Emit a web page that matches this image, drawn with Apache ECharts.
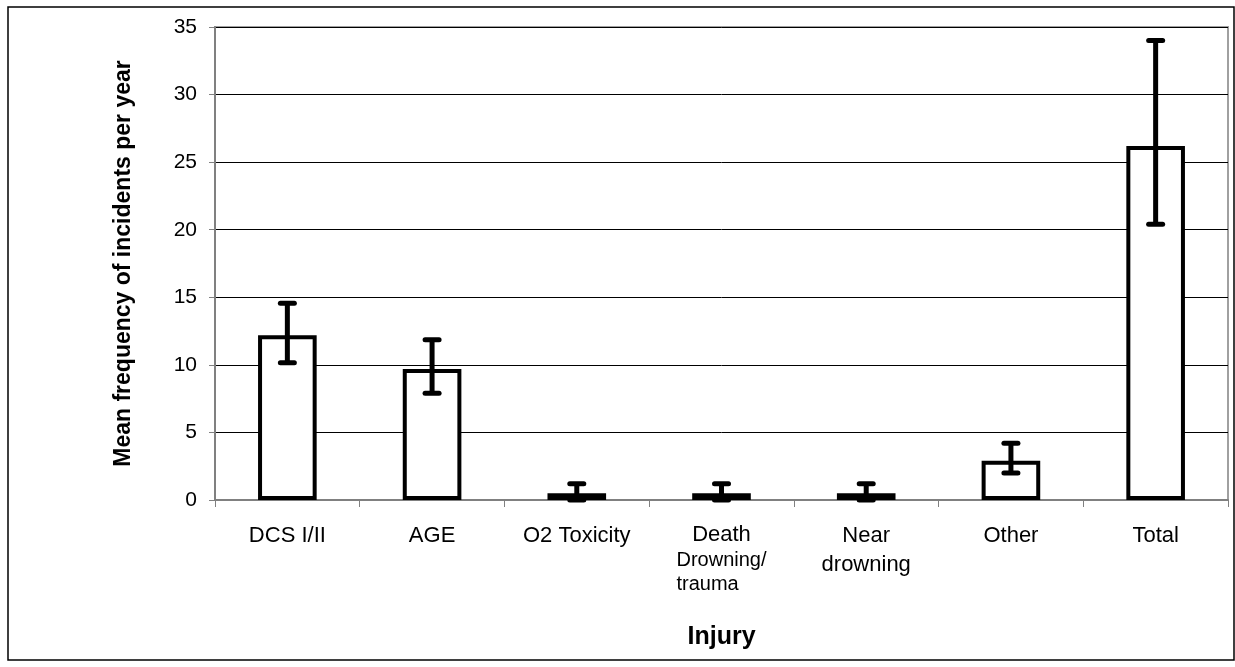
<!DOCTYPE html>
<html>
<head>
<meta charset="utf-8">
<script src="https://cdn.jsdelivr.net/npm/echarts@6/dist/echarts.min.js"></script>
<style>
html,body{margin:0;padding:0;background:#fff;}
#chart{width:1235px;height:667px;}
</style>
</head>
<body>
<div id="chart"></div>
<script>
const categories = ['DCS I/II', 'AGE', 'O2 Toxicity', 'Death', 'Near\ndrowning', 'Other', 'Total'];
const means = [12.2, 9.7, 0.5, 0.5, 0.5, 2.9, 26.2];
const errLow = [10.15, 7.9, 0, 0, 0, 2.0, 20.4];
const errHigh = [14.55, 11.85, 1.2, 1.2, 1.2, 4.2, 34.0];
const yTicks = [0, 5, 10, 15, 20, 25, 30, 35];

const chart = echarts.init(document.getElementById('chart'), null, {renderer: 'canvas'});
const FONT = '"Liberation Sans", Arial, sans-serif';

const errData = categories.map((c, i) => [i, errLow[i], errHigh[i]]);

chart.setOption({
  animation: false,
  backgroundColor: '#ffffff',
  grid: {left: 215, top: 27, right: 7, bottom: 167, show: true, borderColor: '#a0a0a0', borderWidth: 2, backgroundColor: 'transparent'},
  graphic: [{
    type: 'rect', z: -1,
    shape: {x: 8, y: 7, width: 1226, height: 653},
    style: {fill: 'none', stroke: '#000', lineWidth: 1.5}
  }],
  xAxis: {
    type: 'category',
    data: categories,
    name: 'Injury',
    nameLocation: 'middle',
    nameGap: 125,
    nameTextStyle: {fontFamily: FONT, fontSize: 25, fontWeight: 'bold', color: '#000'},
    axisLine: {lineStyle: {color: '#808080', width: 2}},
    axisTick: {show: true, alignWithLabel: false, length: 7, lineStyle: {color: '#808080', width: 1}},
    axisLabel: {
      fontFamily: FONT, fontSize: 22, color: '#000', margin: 21, lineHeight: 29, interval: 0,
      formatter: function (v) {
        if (v === 'Death') return '{d|Death}\n{s|Drowning/}\n{s|trauma}';
        return v;
      },
      rich: {
        d: {fontFamily: FONT, fontSize: 22, color: '#000', align: 'center', lineHeight: 27},
        s: {fontFamily: FONT, fontSize: 20, color: '#000', align: 'left', lineHeight: 24}
      }
    },
    splitLine: {show: false}
  },
  yAxis: {
    type: 'value',
    min: 0, max: 35, interval: 5,
    name: 'Mean frequency of incidents per year',
    nameLocation: 'middle',
    nameGap: 80,
    nameTextStyle: {fontFamily: FONT, fontSize: 23, fontWeight: 'bold', color: '#000'},
    axisLine: {show: true, lineStyle: {color: '#808080', width: 2}},
    axisTick: {show: true, length: 6, lineStyle: {color: '#808080', width: 1}},
    axisLabel: {fontFamily: FONT, fontSize: 21, color: '#000', margin: 18,
      formatter: function (v) { return yTicks.indexOf(v) >= 0 ? String(v) : ''; }},
    splitLine: {show: true, lineStyle: {color: '#000', width: 1}}
  },
  series: [{
    type: 'bar',
    data: means,
    barWidth: '40.5%',
    itemStyle: {color: '#fff', borderColor: '#000', borderWidth: 4},
    z: 2
  }, {
    type: 'custom',
    data: errData,
    z: 3,
    renderItem: function (params, api) {
      const x = api.value(0);
      const lo = api.coord([x, api.value(1)]);
      const hi = api.coord([x, api.value(2)]);
      const half = 7;
      const st = {stroke: '#000', lineWidth: 5, lineCap: 'round'};
      return {
        type: 'group',
        children: [
          {type: 'line', shape: {x1: hi[0], y1: hi[1], x2: lo[0], y2: lo[1]}, style: {stroke: '#000', lineWidth: 5}},
          {type: 'line', shape: {x1: hi[0] - half, y1: hi[1], x2: hi[0] + half, y2: hi[1]}, style: st},
          {type: 'line', shape: {x1: lo[0] - half, y1: lo[1], x2: lo[0] + half, y2: lo[1]}, style: st}
        ]
      };
    }
  }]
});
</script>
</body>
</html>
